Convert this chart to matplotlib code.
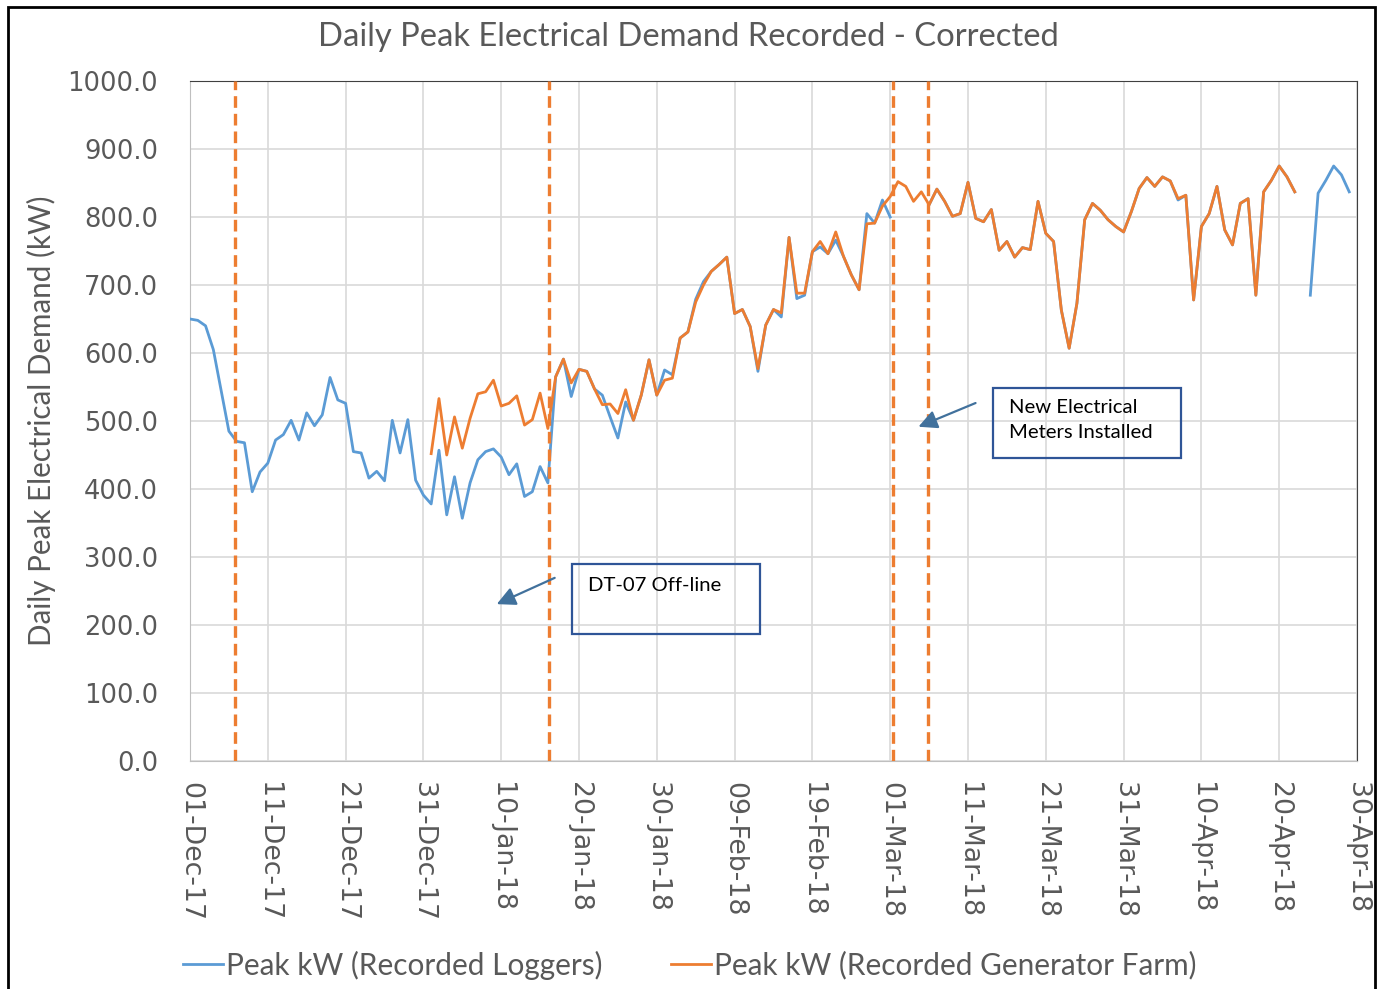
import numpy as np
import matplotlib.pyplot as plt
from matplotlib.patches import Rectangle

# days counted from 01-Dec-17
tick_days = np.arange(0, 151, 10)
tick_labels = ['01-Dec-17', '11-Dec-17', '21-Dec-17', '31-Dec-17', '10-Jan-18',
               '20-Jan-18', '30-Jan-18', '09-Feb-18', '19-Feb-18', '01-Mar-18',
               '11-Mar-18', '21-Mar-18', '31-Mar-18', '10-Apr-18', '20-Apr-18',
               '30-Apr-18']

# Peak kW (Recorded Loggers), days 0..149 (None = no reading)
loggers = [650, 648, 640, 605, 545, 485, 470, 468, 396, 425,
           438, 472, 480, 501, 472, 512, 493, 509, 564, 531,
           526, 455, 453, 416, 426, 412, 501, 453, 502, 413,
           391, 378, 457, 362, 418, 357, 409, 443, 455, 459,
           447, 421, 437, 389, 396, 433, 409, 565, 591, 536,
           576, 573, 547, 538, 506, 475, 528, 501, 538, 590,
           538, 575, 568, 622, 631, 679, 705, 720, 730, 741,
           658, 664, 639, 573, 641, 664, 653, 770, 680, 685,
           749, 756, 746, 766, 742, 715, 693, 805, 791, 825,
           800, None, None, None, None, 818, 841, 823, 801, 805,
           851, 798, 793, 811, 751, 764, 741, 755, 752, 823,
           776, 764, 663, 607, 673, 796, 820, 810, 796, 786,
           778, 808, 842, 858, 845, 859, 853, 825, 832, 678,
           786, 805, 845, 781, 759, 820, 827, 685, 837, 854,
           875, 859, 837, None, 685, 835, 854, 875, 862, 837]

# Peak kW (Recorded Generator Farm), days 31..142
farm_start = 31
farm = [452, 533, 450, 506, 460, 504, 540, 543, 560,
        522, 526, 537, 494, 502, 541, 489, 565, 591, 556,
        576, 573, 547, 524, 525, 511, 546, 501, 538, 590,
        538, 560, 563, 622, 631, 675, 700, 720, 730, 741,
        658, 664, 639, 577, 641, 664, 659, 770, 688, 688,
        749, 764, 746, 778, 742, 715, 693, 790, 791, 816,
        830, 852, 845, 823, 837, 818, 841, 823, 801, 805,
        851, 798, 793, 811, 751, 764, 741, 755, 752, 823,
        776, 764, 663, 607, 673, 796, 820, 810, 796, 786,
        778, 808, 842, 858, 845, 859, 853, 827, 832, 678,
        786, 805, 845, 781, 759, 820, 827, 685, 837, 854,
        875, 859, 837]

# event markers (days)
events = [5.8, 46.1, 90.4, 94.8]

grey = '#595959'
blue = '#5B9BD5'
orange = '#ED7D31'
ann = '#41719C'

fig = plt.figure(figsize=(13.82, 9.89), dpi=100)
ax = fig.add_axes([190 / 1382, 228 / 989, 1167 / 1382, 680 / 989])

x_log = np.arange(len(loggers))
y_log = np.array([np.nan if v is None else v for v in loggers], dtype=float)
x_farm = np.arange(farm_start, farm_start + len(farm))

ax.plot(x_log, y_log, color=blue, lw=2.0, label='Peak kW (Recorded Loggers)', zorder=3)
ax.plot(x_farm, farm, color=orange, lw=2.0, label='Peak kW (Recorded Generator Farm)', zorder=4)

for d in events:
    ax.axvline(d, color=orange, lw=2.4, ls=(0, (3.5, 1.8)), zorder=5)

ax.set_xlim(0, 150)
ax.set_ylim(0, 1000)
ax.set_yticks(np.arange(0, 1001, 100))
ax.set_yticklabels(['%.1f' % v for v in np.arange(0, 1001, 100)])
ax.set_xticks(tick_days)
ax.set_xticklabels(tick_labels, rotation=-90, va='top', ha='center')
ax.tick_params(axis='y', length=0, labelsize=18.5, colors=grey, pad=23)
ax.tick_params(axis='x', length=0, labelsize=19.3, colors=grey, pad=15)
ax.grid(True, color='#D9D9D9', lw=1.2)
ax.set_axisbelow(True)
for s in ['left', 'bottom']:
    ax.spines[s].set_color('#BFBFBF')
for s in ['top', 'right']:
    ax.spines[s].set_color('#404040')

ax.set_ylabel('Daily Peak Electrical Demand (kW)', fontsize=21.3, color=grey,
              family='Lato', labelpad=8)
fig.text(688 / 1382, 1 - 37 / 989, 'Daily Peak Electrical Demand Recorded - Corrected',
         ha='center', va='center', fontsize=23.6, color=grey, family='Lato')

# annotation boxes
ax.add_patch(Rectangle((49.1, 187), 24.2, 103, fill=False, ec='#2F5597', lw=1.6, zorder=6))
ax.text(51.2, 271, 'DT-07 Off-line', fontsize=14.6, family='Lato', color='#000000',
        va='top', ha='left', zorder=7)
ax.add_patch(Rectangle((103.2, 445.6), 24.2, 103, fill=False, ec='#2F5597', lw=1.6, zorder=6))
ax.text(105.3, 533, 'New Electrical\nMeters Installed', fontsize=14.6, family='Lato',
        color='#000000', va='top', ha='left', linespacing=1.6, zorder=7)

ax.annotate('', xy=(39.1, 229), xytext=(47.2, 271),
            arrowprops=dict(arrowstyle='-|>', color=ann, lw=1.6, mutation_scale=28), zorder=7)
ax.annotate('', xy=(93.3, 490), xytext=(101.3, 528),
            arrowprops=dict(arrowstyle='-|>', color=ann, lw=1.6, mutation_scale=28), zorder=7)

leg = fig.legend(loc='center', bbox_to_anchor=(690 / 1382, 24 / 989), ncol=2, frameon=False,
                 prop={'family': 'Lato', 'size': 21.4}, handlelength=1.35, handletextpad=0.1,
                 columnspacing=2.3)
for t in leg.get_texts():
    t.set_color(grey)

# outer chart frame
fig.patches.append(Rectangle((8 / 1382, -0.05), 1367 / 1382, 1.05 - 7 / 989, fill=False,
                             ec='black', lw=2, transform=fig.transFigure, figure=fig))

fig.savefig('out.png', dpi=100)
